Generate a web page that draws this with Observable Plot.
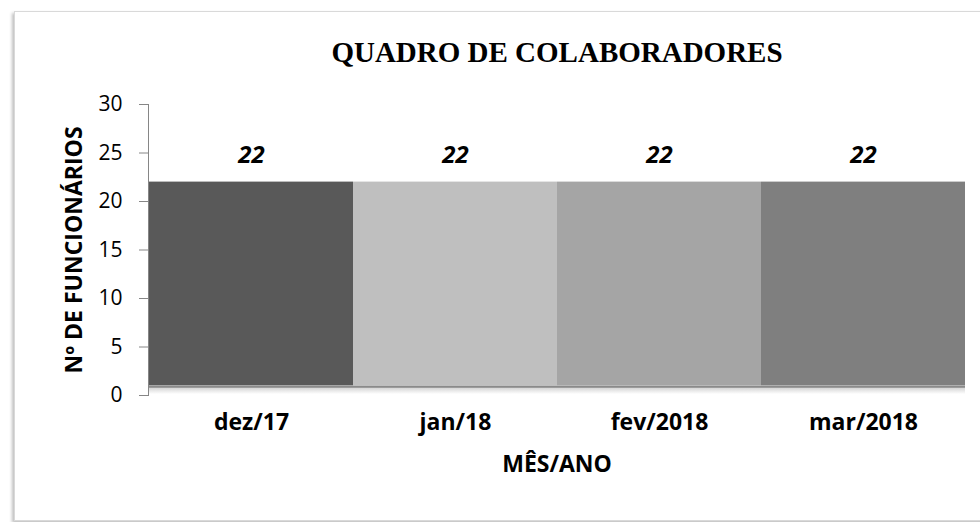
<!DOCTYPE html>
<html>
<head>
<meta charset="utf-8">
<script src="https://cdn.jsdelivr.net/npm/d3@7"></script>
<script src="https://cdn.jsdelivr.net/npm/@observablehq/plot@0.6"></script>
<style>
  html, body { margin: 0; padding: 0; background: #fff; width: 980px; height: 522px; overflow: hidden; }
  #frame { position: absolute; left: 14px; top: 11px; width: 1000px; height: 508px;
           border: 1px solid #d9d9d9; box-shadow: -2px 2px 3px rgba(0,0,0,0.25); background: #fff; }
  #chart { position: absolute; left: 0; top: 0; }
  #chart svg { font-family: "Open Sans", sans-serif; }
</style>
</head>
<body>
<div id="frame"></div>
<div id="chart"></div>
<script>
const months = ["dez/17", "jan/18", "fev/2018", "mar/2018"];
const employees = [22, 22, 22, 22];
const barColors = ["#595959", "#bfbfbf", "#a5a5a5", "#7f7f7f"];
const yTicks = [0, 5, 10, 15, 20, 25, 30];
const floorValue = 1; // visual floor of the 3D column base
const title = "QUADRO DE COLABORADORES";
const yLabel = "Nº DE FUNCIONÁRIOS";
const xLabel = "MÊS/ANO";

const data = months.map((m, i) => ({ month: m, value: employees[i], base: floorValue }));

const chart = Plot.plot({
  width: 980,
  height: 522,
  marginLeft: 148,
  marginRight: 15,
  marginTop: 104,
  marginBottom: 127,
  style: { background: "transparent", overflow: "visible" },
  x: { domain: months, padding: 0, label: null },
  y: { domain: [0, 30], ticks: yTicks, label: null },
  color: { domain: months, range: barColors },
  marks: [
    Plot.barY(data, { x: "month", y1: 0.1, y2: "base", fill: "url(#floorShadow)", inset: 0 }),
    Plot.barY(data, { x: "month", y1: "base", y2: "value", fill: "month", inset: 0 }),
    Plot.ruleY([floorValue], { stroke: "#8a8a8a", strokeWidth: 2, dy: 1 }),
    Plot.text(data, { x: "month", y: "value", text: d => String(d.value), dy: -27,
      fontSize: 24, fontWeight: "bold", fontStyle: "italic", fill: "#000" }),
    Plot.axisY({ ticks: yTicks, tickSize: 9, tickPadding: 17, fontSize: 21, stroke: "#868686", fill: "#000", label: null }),
    Plot.frame({ anchor: "left", stroke: "#868686" }),
    Plot.axisX({ tickSize: 0, tickPadding: 18, fontSize: 23, fontWeight: "bold", fill: "#000", label: null }),
    Plot.text([title], { frameAnchor: "top", lineAnchor: "middle", dy: -52, text: d => d, fontSize: 29, fontWeight: "bold",
      fontFamily: "Liberation Serif", fill: "#000" }),
    Plot.text([xLabel], { frameAnchor: "bottom", lineAnchor: "middle", dy: 69, text: d => d, fontSize: 23, fontWeight: "bold", fill: "#000" }),
    Plot.text([yLabel], { frameAnchor: "left", textAnchor: "middle", lineAnchor: "middle", dx: -74, rotate: -90, text: d => d, fontSize: 23, fontWeight: "bold", fill: "#000" })
  ]
});
const ns = "http://www.w3.org/2000/svg";
const defs = document.createElementNS(ns, "defs");
defs.innerHTML = '<linearGradient id="floorShadow" x1="0" y1="0" x2="0" y2="1">' +
  '<stop offset="0" stop-color="#c4c4c4"/><stop offset="1" stop-color="#ffffff"/></linearGradient>';
chart.insertBefore(defs, chart.firstChild);
document.getElementById("chart").appendChild(chart);
</script>
</body>
</html>
